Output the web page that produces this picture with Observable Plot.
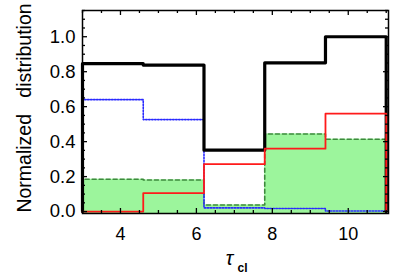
<!DOCTYPE html>
<html><head><meta charset="utf-8">
<script src="https://cdn.jsdelivr.net/npm/d3@7"></script>
<script src="https://cdn.jsdelivr.net/npm/@observablehq/plot@0.6"></script>
<style>
html,body{margin:0;padding:0;background:#fff;}
#chart{width:409px;height:273px;}
</style></head>
<body><div id="chart"></div>
<script>
// Bin edges of tau_cl histogram
const edges = [3, 4.6, 6.2, 7.8, 9.4, 11];
// Series values per bin
const totalVals = [0.846, 0.838, 0.351, 0.851, 1.0];     // black solid
const blueVals  = [0.640, 0.526, 0.021, 0.018, 0.003];   // blue dotted
const greenVals = [0.185, 0.181, 0.038, 0.444, 0.414];   // green dashed, filled
const redVals   = [0.000, 0.105, 0.271, 0.360, 0.560];   // red solid
// Tick labels
const xTickVals = [4, 6, 8, 10];
const yTickVals = [0.0, 0.2, 0.4, 0.6, 0.8, 1.0];

const W = 409, H = 273;
const mL = 82, mR = 21, mT = 10, mB = 60;
const fw = W - mL - mR, fh = H - mT - mB;
const xDom = [3, 11.06], yDom = [-0.011, 1.15];

function steps(vals) {
  const pts = [{x: edges[0], y: 0}];
  vals.forEach((v, i) => pts.push({x: edges[i], y: v}));
  pts.push({x: edges[edges.length - 1], y: vals[vals.length - 1]});
  pts.push({x: edges[edges.length - 1], y: 0});
  return pts;
}
function areaPts(vals) {
  const pts = vals.map((v, i) => ({x: edges[i], y: v}));
  pts.push({x: edges[edges.length - 1], y: vals[vals.length - 1]});
  return pts;
}

const xMinor = d3.range(3, 11.01, 0.5).filter(v => !xTickVals.includes(v));
const yMinor = d3.range(0, 1.151, 0.05).map(v => +v.toFixed(2)).filter(v => !yTickVals.some(t => Math.abs(t - v) < 1e-6));

const font = "'Liberation Sans', Arial, Helvetica, sans-serif";

const plot = Plot.plot({
  width: W, height: H,
  marginLeft: mL, marginRight: mR, marginTop: mT, marginBottom: mB,
  style: {fontFamily: font, fontSize: "18px", background: "white", color: "black"},
  x: {domain: xDom},
  y: {domain: yDom},
  marks: [
    Plot.areaY(areaPts(greenVals), {x: "x", y1: yDom[0], y2: "y", curve: "step-after", fill: "#9cf59c"}),
    Plot.line(steps(greenVals), {x: "x", y: "y", curve: "step-after", stroke: "#3d8a3d", strokeWidth: 1.6, strokeDasharray: "4,3"}),
    Plot.line(steps(blueVals), {x: "x", y: "y", curve: "step-after", stroke: "#2a2aff", strokeWidth: 1.6, strokeDasharray: "1.5,1.5"}),
    Plot.line(steps(totalVals), {x: "x", y: "y", curve: "step-after", stroke: "black", strokeWidth: 3.2}),
    Plot.line(steps(redVals), {x: "x", y: "y", curve: "step-after", stroke: "#ff1a1a", strokeWidth: 1.8}),
    // inward ticks
    Plot.tickX(xTickVals, {x: d => d, insetTop: fh - 5, stroke: "black", strokeWidth: 1.3}),
    Plot.tickX(xTickVals, {x: d => d, insetBottom: fh - 5, stroke: "black", strokeWidth: 1.3}),
    Plot.tickX(xMinor, {x: d => d, insetTop: fh - 3, stroke: "black", strokeWidth: 1.3}),
    Plot.tickX(xMinor, {x: d => d, insetBottom: fh - 3, stroke: "black", strokeWidth: 1.3}),
    Plot.tickY(yTickVals, {y: d => d, insetRight: fw - 5, stroke: "black", strokeWidth: 1.3}),
    Plot.tickY(yTickVals, {y: d => d, insetLeft: fw - 5, stroke: "black", strokeWidth: 1.3}),
    Plot.tickY(yMinor, {y: d => d, insetRight: fw - 3, stroke: "black", strokeWidth: 1.3}),
    Plot.tickY(yMinor, {y: d => d, insetLeft: fw - 3, stroke: "black", strokeWidth: 1.3}),
    Plot.frame({stroke: "black", strokeWidth: 1.5}),
    Plot.axisX(xTickVals, {tickSize: 0, tickPadding: 14, label: null, fontSize: 18, tickFormat: d => String(d)}),
    Plot.axisY(yTickVals, {tickSize: 0, tickPadding: 7, label: null, fontSize: 18.5, tickFormat: d => d.toFixed(1)}),
    Plot.text(["Normalized\u00a0\u00a0\u00a0distribution"], {frameAnchor: "left", textAnchor: "middle", rotate: -90, dx: -57.5, dy: -4, fontSize: 19.5, text: d => d}),
    Plot.text(["τ"], {frameAnchor: "bottom", dy: 51, dx: -6, fontSize: 20, fontStyle: "italic", text: d => d}),
    Plot.text(["cl"], {frameAnchor: "bottom", dy: 58, dx: 7, fontSize: 12, fontWeight: "bold", text: d => d})
  ]
});
document.getElementById("chart").appendChild(plot);
</script></body></html>
